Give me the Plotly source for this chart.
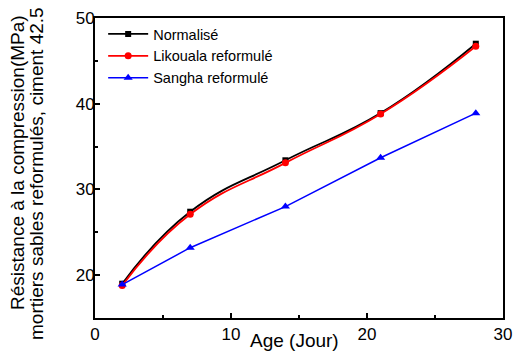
import plotly.graph_objects as go

ages = [2, 7, 14, 21, 28]
normalise = [19.0, 27.4, 33.4, 38.9, 47.0]
likouala = [18.8, 27.1, 33.1, 38.8, 46.7]
sangha = [18.9, 23.2, 28.0, 33.7, 38.9]

x_ticks = [0, 10, 20, 30]
y_ticks = [20, 30, 40, 50]

FONT = "Arial, Liberation Sans"

fig = go.Figure()
fig.add_trace(go.Scatter(x=ages, y=normalise, name="Normalisé", mode="lines+markers",
                         line=dict(color="black", width=1.8, shape="spline", smoothing=1.3),
                         marker=dict(symbol="square", size=6, color="black")))
fig.add_trace(go.Scatter(x=ages, y=likouala, name="Likouala reformulé", mode="lines+markers",
                         line=dict(color="red", width=1.8, shape="spline", smoothing=1.3),
                         marker=dict(symbol="circle", size=7, color="red")))
fig.add_trace(go.Scatter(x=ages, y=sangha, name="Sangha reformulé", mode="lines+markers",
                         line=dict(color="blue", width=1.5),
                         marker=dict(symbol="triangle-up", size=8, color="blue")))

axis_common = dict(showline=True, linecolor="black", linewidth=2, mirror=True,
                   ticks="inside", ticklen=5, tickwidth=1.5, tickcolor="black",
                   showgrid=False, zeroline=False, automargin=False,
                   tickfont=dict(family=FONT, size=17, color="black"),
                   minor=dict(ticks="inside", ticklen=3, tickwidth=1.5, tickcolor="black", dtick=5, tick0=0))

fig.update_xaxes(range=[0, 30], tickvals=x_ticks, **axis_common)
fig.update_yaxes(range=[15, 50], tickvals=y_ticks, ticklabelstandoff=-5, **axis_common)

# axis titles
fig.add_annotation(text="Age (Jour)", xref="paper", yref="paper", x=(294 - 95) / 408, y=(318 - 340) / 300,
                   xanchor="center", yanchor="middle", showarrow=False,
                   font=dict(family=FONT, size=19, color="black"))
fig.add_annotation(text="Résistance à la compression(MPa)", xref="paper", yref="paper",
                   x=(18 - 95) / 408, y=(318 - 163) / 300, textangle=-90,
                   xanchor="center", yanchor="middle", showarrow=False,
                   font=dict(family=FONT, size=19, color="black"))
fig.add_annotation(text="mortiers sables reformulés, ciment 42.5", xref="paper", yref="paper",
                   x=(36 - 95) / 408, y=(318 - 174) / 300, textangle=-90,
                   xanchor="center", yanchor="middle", showarrow=False,
                   font=dict(family=FONT, size=19, color="black"))

fig.update_layout(width=513, height=351, margin=dict(l=95, r=10, t=18, b=33),
                  paper_bgcolor="white", plot_bgcolor="white",
                  legend=dict(x=0.02, y=1.0, xanchor="left", yanchor="top", bgcolor="rgba(0,0,0,0)",
                              font=dict(family=FONT, size=14.5, color="black"),
                              tracegroupgap=0, itemwidth=40))

fig.write_html("out.html")
